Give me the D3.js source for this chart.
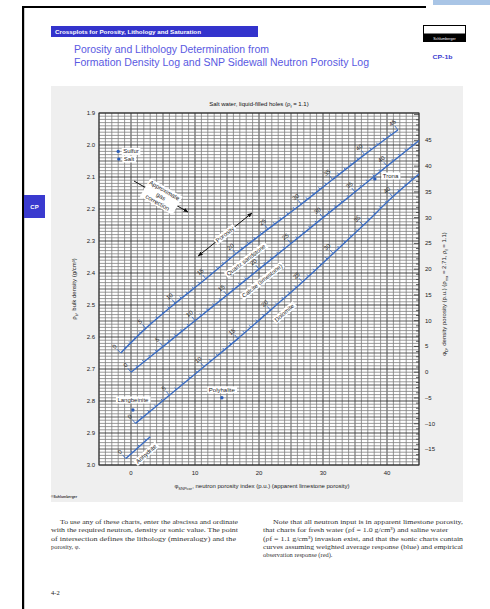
<!DOCTYPE html>
<html><head><meta charset="utf-8">
<script src="https://cdn.jsdelivr.net/npm/d3@7"></script>
<style>body{margin:0;background:#fff;} svg{display:block;}</style>
</head><body><svg id="c" width="490" height="609"></svg>
<script>
// ---------------- data ----------------
const lithNames = ["Quartz sandstone", "Calcite (limestone)", "Dolomite", "Anhydrite"];
const sandPhi     = [0, 5, 10, 15, 20, 25, 30, 35, 40, 45];
const sandNeutron = [-1.6, 2.3, 6.9, 11.7, 16.4, 21.4, 26.6, 31.5, 36.5, 41.7];
const sandDensity = [2.65, 2.573, 2.495, 2.418, 2.34, 2.263, 2.185, 2.108, 2.03, 1.953];
const limePhi     = [0, 5, 10, 15, 20, 25, 30, 35, 40, 45];
const limeNeutron = [0, 5, 10, 15, 20, 25, 30, 35, 40, 45];
const limeDensity = [2.71, 2.630, 2.549, 2.469, 2.388, 2.308, 2.227, 2.147, 2.066, 1.986];
const dolPhi      = [0, 5, 10, 15, 20, 25, 30, 35, 40, 44];
const dolNeutron  = [0.7, 6.0, 11.4, 16.7, 21.8, 26.8, 31.6, 36.3, 40.9, 45.0];
const dolDensity  = [2.87, 2.782, 2.693, 2.605, 2.516, 2.428, 2.339, 2.251, 2.162, 2.091];
const anhPhi      = [0, 3.6];
const anhNeutron  = [-0.8, 3.0];
const anhDensity  = [2.98, 2.912];
const mineralNames   = ["Sulfur", "Salt", "Trona", "Polyhalite", "Langbeinite"];
const mineralNeutron = [-2.0, -1.9, 38.1, 14.2, 0.3];
const mineralDensity = [2.02, 2.044, 2.106, 2.79, 2.828];
const xTickValues = [0, 10, 20, 30, 40];
const yTickValues = [1.9, 2.0, 2.1, 2.2, 2.3, 2.4, 2.5, 2.6, 2.7, 2.8, 2.9, 3.0];
const rightTickValues = [-15, -10, -5, 0, 5, 10, 15, 20, 25, 30, 35, 40, 45];
const rhoMatrix = 2.71, rhoFluid = 1.1;

// ---------------- setup ----------------
const svg = d3.select("#c");
const SANS = "'Liberation Sans', Arial, sans-serif";
const SERIF = "'Liberation Serif', 'Times New Roman', serif";
const LINE = "#3a6cc2";

const x = d3.scaleLinear().domain([-5, 45]).range([99, 419]);
const y = d3.scaleLinear().domain([1.9, 3.0]).range([113, 465]);
const phiD = v => (rhoMatrix - v) / (rhoMatrix - rhoFluid) * 100;
const yR = d3.scaleLinear().domain([phiD(1.9), phiD(3.0)]).range([113, 465]);

// page frame
svg.append("rect").attr("x", 433).attr("y", 0).attr("width", 57).attr("height", 5).attr("fill", "#a9c5e6");
svg.append("rect").attr("x", 22).attr("y", 6).attr("width", 404).attr("height", 2).attr("fill", "#000");
svg.append("rect").attr("x", 22).attr("y", 6).attr("width", 2.2).attr("height", 603).attr("fill", "#000");
// CP tab
svg.append("rect").attr("x", 24).attr("y", 195).attr("width", 21).attr("height", 23).attr("fill", "#3a3acf");
svg.append("text").attr("x", 34.5).attr("y", 209).attr("text-anchor", "middle").attr("font-family", SANS)
  .attr("font-size", 6).attr("font-weight", "bold").attr("fill", "#fff").text("CP");

// header bar
svg.append("rect").attr("x", 51).attr("y", 26).attr("width", 207).attr("height", 11).attr("fill", "#3333cc");
svg.append("text").attr("x", 55).attr("y", 33.8).attr("font-family", SANS).attr("font-size", 6).attr("font-weight", "bold")
  .attr("fill", "#fff").attr("textLength", 146).attr("lengthAdjust", "spacingAndGlyphs")
  .text("Crossplots for Porosity, Lithology and Saturation");
// title
svg.append("text").attr("x", 74).attr("y", 52.5).attr("font-family", SANS).attr("font-size", 10).attr("fill", "#5a5ae2")
  .attr("textLength", 195).attr("lengthAdjust", "spacingAndGlyphs").text("Porosity and Lithology Determination from");
svg.append("text").attr("x", 74).attr("y", 65.5).attr("font-family", SANS).attr("font-size", 10).attr("fill", "#5a5ae2")
  .attr("textLength", 295).attr("lengthAdjust", "spacingAndGlyphs").text("Formation Density Log and SNP Sidewall Neutron Porosity Log");
// logo
svg.append("rect").attr("x", 423.5).attr("y", 25.5).attr("width", 42).attr("height", 16).attr("fill", "#fff").attr("stroke", "#000");
svg.append("rect").attr("x", 423.5).attr("y", 33.5).attr("width", 42).attr("height", 8).attr("fill", "#000");
svg.append("text").attr("x", 444.5).attr("y", 39.5).attr("text-anchor", "middle").attr("font-family", SANS).attr("font-size", 3.6)
  .attr("fill", "#fff").text("Schlumberger");
svg.append("text").attr("x", 432.5).attr("y", 59).attr("font-family", SANS).attr("font-size", 6).attr("font-weight", "bold")
  .attr("fill", "#3b3bd0").attr("textLength", 20).attr("lengthAdjust", "spacingAndGlyphs").text("CP-1b");

// gray panel
svg.append("rect").attr("x", 51).attr("y", 86).attr("width", 412).attr("height", 416).attr("fill", "#efefef");
// subtitle
const st = svg.append("text").attr("x", 259).attr("y", 106).attr("text-anchor", "middle").attr("font-family", SANS)
  .attr("font-size", 6).attr("fill", "#111");
st.append("tspan").text("Salt water, liquid-filled holes (ρ");
st.append("tspan").attr("font-size", 4).attr("dy", 1.5).text("f");
st.append("tspan").attr("dy", -1.5).text(" = 1.1)");

// ---------------- grid ----------------
const g = svg.append("g");
g.append("rect").attr("x", x(-5)).attr("y", y(1.9)).attr("width", x(45) - x(-5)).attr("height", y(3.0) - y(1.9)).attr("fill", "#fff");
const vLines = d3.range(-5, 45.01, 1);
g.selectAll(".vg").data(vLines).join("line")
  .attr("x1", d => x(d)).attr("x2", d => x(d)).attr("y1", y(1.9)).attr("y2", y(3.0))
  .attr("stroke", d => (Math.round(d) % 10 === 0 ? "#3a3a3a" : Math.round(d) % 5 === 0 ? "#555" : "#7e7e7e"))
  .attr("stroke-width", d => (Math.round(d) % 5 === 0 ? 0.95 : 0.8));
const hLines = d3.range(190, 300.1, 1).map(v => v / 100);
g.selectAll(".hg").data(hLines).join("line")
  .attr("y1", d => y(d)).attr("y2", d => y(d)).attr("x1", x(-5)).attr("x2", x(45))
  .attr("stroke", d => (Math.round(d * 100) % 10 === 0 ? "#3a3a3a" : Math.round(d * 100) % 5 === 0 ? "#555" : "#7e7e7e"))
  .attr("stroke-width", d => (Math.round(d * 100) % 5 === 0 ? 0.95 : 0.8));
g.append("rect").attr("x", x(-5)).attr("y", y(1.9)).attr("width", x(45) - x(-5)).attr("height", y(3.0) - y(1.9))
  .attr("fill", "none").attr("stroke", "#333").attr("stroke-width", 1);

// right axis inner ticks
const rTicks = d3.range(-17, 50.01, 1);
g.selectAll(".rt").data(rTicks).join("line")
  .attr("x1", x(45)).attr("x2", d => x(45) - (d % 5 === 0 ? 5 : 3))
  .attr("y1", d => yR(d)).attr("y2", d => yR(d)).attr("stroke", "#333").attr("stroke-width", 0.8);

// axis labels
svg.selectAll(".xl").data(xTickValues).join("text").attr("x", d => x(d)).attr("y", 475)
  .attr("text-anchor", "middle").attr("font-family", SANS).attr("font-size", 6).attr("fill", "#222").text(d => d);
svg.selectAll(".yl").data(yTickValues).join("text").attr("x", 95).attr("y", d => y(d) + 2)
  .attr("text-anchor", "end").attr("font-family", SANS).attr("font-size", 6).attr("fill", "#222").text(d => d.toFixed(1));
svg.selectAll(".rl").data(rightTickValues).join("text").attr("x", 425).attr("y", d => yR(d) + 2)
  .attr("text-anchor", "start").attr("font-family", SANS).attr("font-size", 6).attr("fill", "#222")
  .text(d => (d < 0 ? "\u2013" + Math.abs(d) : d));

// axis titles
const xt = svg.append("text").attr("x", 262).attr("y", 488).attr("text-anchor", "middle").attr("font-family", SANS)
  .attr("font-size", 6).attr("fill", "#222");
xt.append("tspan").text("φ");
xt.append("tspan").attr("font-size", 4).attr("dy", 1.5).text("SNPcor");
xt.append("tspan").attr("dy", -1.5).text(", neutron porosity index (p.u.) (apparent limestone porosity)");

const lt = svg.append("text").attr("transform", "translate(76,289) rotate(-90)").attr("text-anchor", "middle")
  .attr("font-family", SANS).attr("font-size", 6).attr("fill", "#222");
lt.append("tspan").text("ρ");
lt.append("tspan").attr("font-size", 4).attr("dy", 1.5).text("b");
lt.append("tspan").attr("dy", -1.5).text(", bulk density (g/cm³)");

const rt = svg.append("text").attr("transform", "translate(446,294) rotate(-90)").attr("text-anchor", "middle")
  .attr("font-family", SANS).attr("font-size", 6).attr("fill", "#222");
rt.append("tspan").text("φ");
rt.append("tspan").attr("font-size", 4).attr("dy", 1.5).text("D");
rt.append("tspan").attr("dy", -1.5).text(", density porosity (p.u.) (ρ");
rt.append("tspan").attr("font-size", 4).attr("dy", 1.5).text("ma");
rt.append("tspan").attr("dy", -1.5).text(" = 2.71, ρ");
rt.append("tspan").attr("font-size", 4).attr("dy", 1.5).text("f");
rt.append("tspan").attr("dy", -1.5).text(" = 1.1)");

svg.append("text").attr("x", 51).attr("y", 498).attr("font-family", SANS).attr("font-size", 3.5).attr("font-weight", "bold")
  .attr("fill", "#333").text("©Schlumberger");

// ---------------- lithology lines ----------------
const lines = [
  { name: lithNames[0], phi: sandPhi, neu: sandNeutron, den: sandDensity, namePhi: 20.5, nameOff: 11 },
  { name: lithNames[1], phi: limePhi, neu: limeNeutron, den: limeDensity, namePhi: 19.4, nameOff: 11 },
  { name: lithNames[2], phi: dolPhi, neu: dolNeutron, den: dolDensity, namePhi: 21, nameOff: 11 },
  { name: lithNames[3], phi: anhPhi, neu: anhNeutron, den: anhDensity, namePhi: 2.0, nameOff: 10 }
];
svg.append("clipPath").attr("id", "pc").append("rect")
  .attr("x", x(-5)).attr("y", y(1.9)).attr("width", x(45) - x(-5)).attr("height", y(3.0) - y(1.9));
const lg = svg.append("g").attr("clip-path", "url(#pc)");
const labelG = svg.append("g");

function posAt(L, pts, k) {
  let i = d3.bisectRight(L.phi, k) - 1;
  if (i >= L.phi.length - 1) i = L.phi.length - 2;
  if (i < 0) i = 0;
  const t = (k - L.phi[i]) / (L.phi[i + 1] - L.phi[i]);
  const a = pts[i], b = pts[i + 1];
  const dx = b.x - a.x, dy = b.y - a.y, len = Math.hypot(dx, dy);
  return { x: a.x + t * dx, y: a.y + t * dy, ux: dx / len, uy: dy / len, ang: Math.atan2(dy, dx) * 180 / Math.PI };
}

lines.forEach(L => {
  const pts = L.phi.map((p, i) => ({ x: x(L.neu[i]), y: y(L.den[i]) }));
  lg.append("path").datum(pts).attr("d", d3.line().x(d => d.x).y(d => d.y).curve(d3.curveCatmullRom))
    .attr("fill", "none").attr("stroke", LINE).attr("stroke-width", 1.4);
  const pmax = L.phi[L.phi.length - 1];
  for (let k = 0; k <= Math.floor(pmax + 1e-6); k++) {
    const P = posAt(L, pts, k);
    if (P.x > x(45) - 1) continue;
    const nx = P.uy, ny = -P.ux; // up-left normal
    const len = k % 5 === 0 ? 5 : 2.5;
    lg.append("line").attr("x1", P.x).attr("y1", P.y).attr("x2", P.x + nx * len).attr("y2", P.y + ny * len)
      .attr("stroke", LINE).attr("stroke-width", 0.9);
    if (k % 5 === 0) {
      labelG.append("text").attr("transform", `translate(${P.x + nx * 9},${P.y + ny * 9}) rotate(${P.ang})`)
        .attr("text-anchor", "middle").attr("dy", "0.35em").attr("font-family", SANS).attr("font-size", 6)
        .attr("fill", "#222").text(k);
    }
  }
  // name label
  const P = posAt(L, pts, L.namePhi);
  const cx = P.x - P.uy * L.nameOff, cy = P.y + P.ux * L.nameOff;
  const tg = labelG.append("g").attr("transform", `translate(${cx},${cy}) rotate(${P.ang})`);
  const t = tg.append("text").attr("text-anchor", "middle").attr("dy", "0.35em").attr("font-family", SANS)
    .attr("font-size", 6).attr("fill", "#222").text(L.name);
  const bb = t.node().getBBox();
  tg.insert("rect", "text").attr("x", bb.x - 1.5).attr("y", bb.y - 0.5).attr("width", bb.width + 3).attr("height", bb.height + 1).attr("fill", "#fff");
});

// ---------------- minerals ----------------
const mlab = [
  { dx: 5, dy: 2, anchor: "start" },
  { dx: 5, dy: 2, anchor: "start" },
  { dx: 8, dy: -1, anchor: "start" },
  { dx: 0, dy: -6, anchor: "middle" },
  { dx: 0, dy: -8, anchor: "middle" }
];
mineralNames.forEach((n, i) => {
  const px = x(mineralNeutron[i]), py = y(mineralDensity[i]);
  const t = svg.append("text").attr("x", px + mlab[i].dx).attr("y", py + mlab[i].dy).attr("text-anchor", mlab[i].anchor)
    .attr("font-family", SANS).attr("font-size", 6).attr("fill", "#222").text(n);
  const bb = t.node().getBBox();
  svg.insert("rect", () => t.node()).attr("x", bb.x - 1.5).attr("y", bb.y - 0.5).attr("width", bb.width + 3).attr("height", bb.height + 1).attr("fill", "#fff");
  svg.append("circle").attr("cx", px).attr("cy", py).attr("r", 1.7).attr("fill", "#2a5cb8");
});

// ---------------- annotation arrows ----------------
svg.append("defs").html(
  '<marker id="ah" viewBox="0 0 10 10" refX="9" refY="5" markerWidth="5" markerHeight="5" orient="auto-start-reverse">' +
  '<path d="M0,1 L10,5 L0,9 z" fill="#111"/></marker>');
function arrow(n1, r1, n2, r2, both, textLines) {
  const x1 = x(n1), y1 = y(r1), x2 = x(n2), y2 = y(r2);
  const ln = svg.append("line").attr("x1", x1).attr("y1", y1).attr("x2", x2).attr("y2", y2)
    .attr("stroke", "#111").attr("stroke-width", 1).attr("marker-end", "url(#ah)");
  if (both) ln.attr("marker-start", "url(#ah)");
  const ang = Math.atan2(y2 - y1, x2 - x1) * 180 / Math.PI;
  const tg = svg.append("g").attr("transform", `translate(${(x1 + x2) / 2},${(y1 + y2) / 2}) rotate(${ang})`);
  const t = tg.append("text").attr("text-anchor", "middle").attr("font-family", SANS).attr("font-size", 6).attr("fill", "#222");
  const n = textLines.length;
  textLines.forEach((s, i) => t.append("tspan").attr("x", 0).attr("y", (i - (n - 1) / 2) * 7 + 2).text(s));
  const bb = t.node().getBBox();
  tg.insert("rect", "text").attr("x", bb.x - 1.5).attr("y", bb.y - 0.5).attr("width", bb.width + 3).attr("height", bb.height + 1).attr("fill", "#fff");
}
arrow(0.47, 2.1125, 8.9, 2.2094, false, ["Approximate", "gas", "correction"]);
arrow(10.5, 2.347, 18.9, 2.2125, true, ["Porosity"]);

// ---------------- body text ----------------
function para(x0, indent, y0, lines, widths) {
  lines.forEach((s, i) => {
    const t = svg.append("text").attr("x", i === 0 ? x0 + indent : x0).attr("y", y0 + i * 8.3)
      .attr("font-family", SERIF).attr("font-size", 6.4).attr("fill", "#333").text(s);
    if (widths[i]) t.attr("textLength", widths[i]).attr("lengthAdjust", "spacingAndGlyphs");
  });
}
para(51, 9, 524, [
  "To use any of these charts, enter the abscissa and ordinate",
  "with the required neutron, density or sonic value. The point",
  "of intersection defines the lithology (mineralogy) and the",
  "porosity, φ."
], [178, 187, 185, 0]);
para(263, 10, 524, [
  "Note that all neutron input is in apparent limestone porosity,",
  "that charts for fresh water (ρf = 1.0 g/cm³) and saline water",
  "(ρf = 1.1 g/cm³) invasion exist, and that the sonic charts contain",
  "curves assuming weighted average response (blue) and empirical",
  "observation response (red)."
], [190, 185, 200, 200, 0]);
svg.append("text").attr("x", 51).attr("y", 595).attr("font-family", SERIF).attr("font-size", 6.5).attr("fill", "#222").text("4-2");
</script></body></html>
